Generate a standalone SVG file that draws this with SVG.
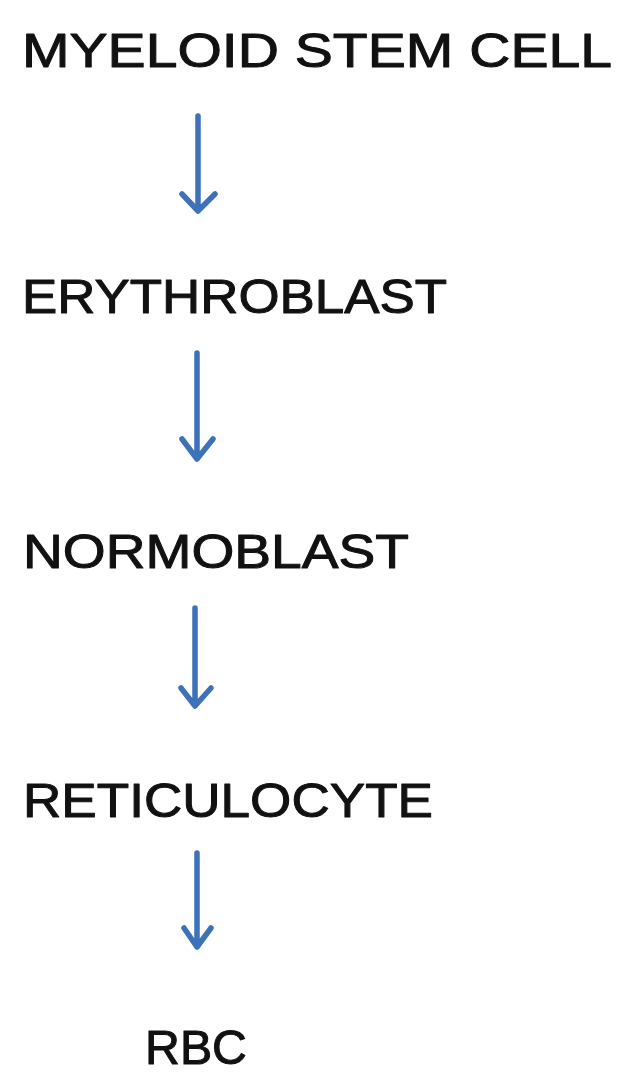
<svg xmlns="http://www.w3.org/2000/svg" width="621" height="1075" viewBox="0 0 621 1075">
  <style>
    .lbl { font-family: "Liberation Sans", Arial, sans-serif; font-size: 49px; fill: #111; stroke: #111; stroke-width: 1; stroke-linejoin: round; }
    .arr { fill: none; stroke: #3d72b8; stroke-width: 5.5; stroke-linecap: round; stroke-linejoin: round; }
  </style>
  <rect width="621" height="1075" fill="#ffffff"/>
  <g id="node-myeloid">
    <text class="lbl" x="22" y="67" textLength="590" lengthAdjust="spacingAndGlyphs">MYELOID STEM CELL</text>
  </g>
  <g id="node-erythroblast">
    <text class="lbl" x="22" y="313" textLength="425" lengthAdjust="spacingAndGlyphs">ERYTHROBLAST</text>
  </g>
  <g id="node-normoblast">
    <text class="lbl" x="23" y="568" textLength="386" lengthAdjust="spacingAndGlyphs">NORMOBLAST</text>
  </g>
  <g id="node-reticulocyte">
    <text class="lbl" x="23" y="817" textLength="410" lengthAdjust="spacingAndGlyphs">RETICULOCYTE</text>
  </g>
  <g id="node-rbc">
    <text class="lbl" x="145" y="1064" textLength="102" lengthAdjust="spacingAndGlyphs">RBC</text>
  </g>
  <g id="connectors">
    <path class="arr" d="M198 116 L198 211 M182 194 L198 211 L215 194"/>
    <path class="arr" d="M197 353 L197 459 M182 439 L197 459 L213 439"/>
    <path class="arr" d="M195 608 L195 706 M181 688 L195 706 L211 688"/>
    <path class="arr" d="M197 853 L197 947 M184 928 L197 947 L211 928"/>
  </g>
</svg>
